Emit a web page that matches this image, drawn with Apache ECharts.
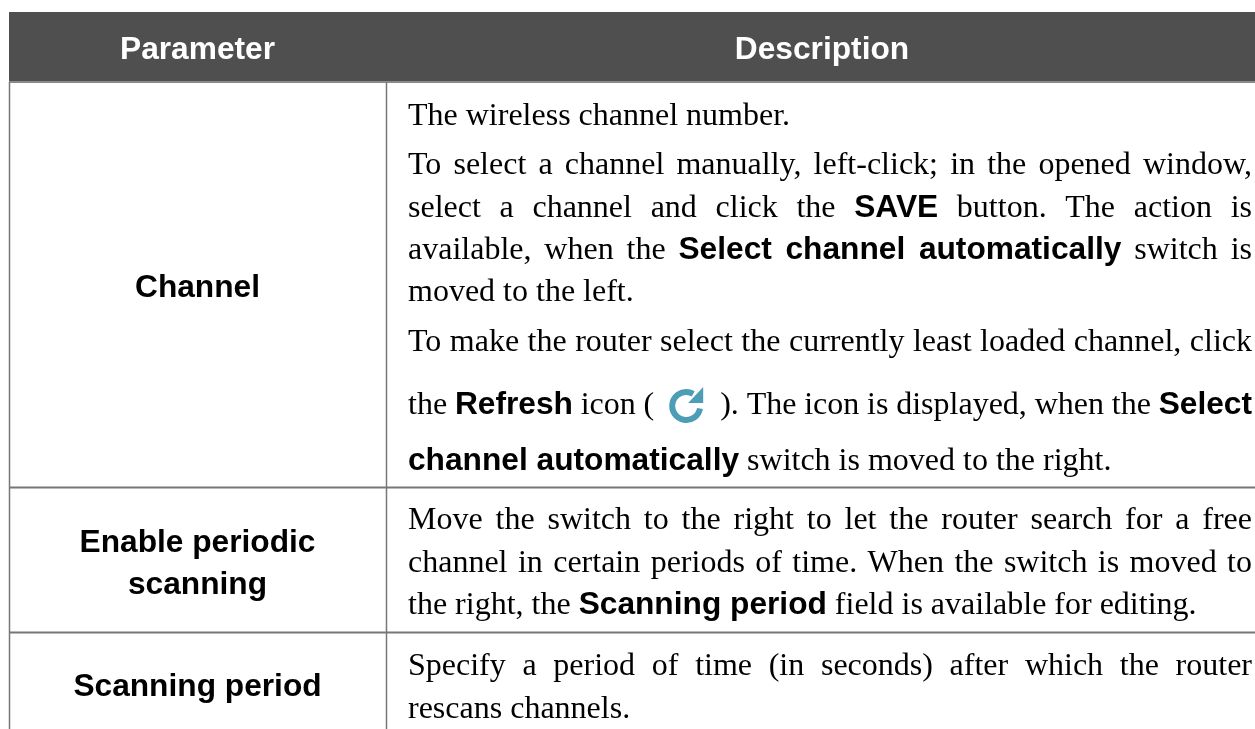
<!DOCTYPE html>
<html><head><meta charset="utf-8">
<style>html,body{margin:0;padding:0;background:#fff}#c{width:1255px;height:729px}</style>
<script src="https://cdn.jsdelivr.net/npm/echarts@6/dist/echarts.min.js"></script>
</head><body><div id="c"></div>
<script>
const headers = ['Parameter', 'Description'];
const parameters = [
  {lines:['Channel'], y:[296]},
  {lines:['Enable periodic','scanning'], y:[551,593]},
  {lines:['Scanning period'], y:[695]}
];
const rowLines = [487, 632];
const descriptionLines = [
  {base:124, j:0, runs:[['The wireless channel number.',0]]},
  {base:173, j:1, runs:[['To select a channel manually, left-click; in the opened window,',0]]},
  {base:216, j:1, runs:[['select a channel and click the ',0],['SAVE',1],[' button. The action is',0]]},
  {base:258, j:1, runs:[['available, when the ',0],['Select channel automatically',1],[' switch is',0]]},
  {base:300, j:0, runs:[['moved to the left.',0]]},
  {base:350, j:1, runs:[['To make the router select the currently least loaded channel, click',0]]},
  {base:413, j:1, runs:[['the ',0],['Refresh',1],[' icon (',0],['ICON',2],['). The icon is displayed, when the ',0],['Select',1]]},
  {base:469, j:0, runs:[['channel automatically',1],[' switch is moved to the right.',0]]},
  {base:528, j:1, runs:[['Move the switch to the right to let the router search for a free',0]]},
  {base:571, j:1, runs:[['channel in certain periods of time. When the switch is moved to',0]]},
  {base:613, j:0, runs:[['the right, the ',0],['Scanning period',1],[' field is available for editing.',0]]},
  {base:674, j:1, runs:[['Specify a period of time (in seconds) after which the router',0]]},
  {base:717, j:0, runs:[['rescans channels.',0]]}
];
const SERIF='"Liberation Serif"', SANS='"Liberation Sans"';
const FS=32, BFS=31.7, HFS=31.7;
const L=9, M=386, R=1255, TOP=12, HB=82, TX=408, TR=1252;
const OFF_SERIF=FS*0.73, OFF_SANS=BFS*0.73+1;
const ctx=document.createElement('canvas').getContext('2d');
function fontOf(b){return b?`bold ${BFS}px ${SANS}`:`${FS}px ${SERIF}`;}
function w(t,b){ctx.font=fontOf(b);return ctx.measureText(t).width;}
const g=[];
function line(x1,y1,x2,y2,c,lw){g.push({type:'line',shape:{x1,y1,x2,y2},style:{stroke:c,lineWidth:lw}});}
g.push({type:'rect',shape:{x:L,y:TOP,width:R-L,height:HB-TOP},style:{fill:'#4f4f4f'}});
line(L,HB,R,HB,'#8a8a8a',2);
line(L+.5,HB,L+.5,729,'#777',1.5);
line(M+.5,HB,M+.5,729,'#777',1.5);
rowLines.forEach(y=>line(L,y+.5,R,y+.5,'#777',2));
function t(text,x,base,font,fill,off,align){g.push({type:'text',x,y:base-off,style:{text,font,fill,textAlign:align||'left'}});}
t(headers[0],197.5,58,`bold ${HFS}px ${SANS}`,'#fff',OFF_SANS,'center');
t(headers[1],822,58,`bold ${HFS}px ${SANS}`,'#fff',OFF_SANS,'center');
parameters.forEach(p=>p.lines.forEach((s,i)=>t(s,197.5,p.y[i],`bold ${BFS}px ${SANS}`,'#000',OFF_SANS,'center')));
descriptionLines.forEach(d=>{
  const toks=[];
  d.runs.forEach(([s,b])=>{
    if(b===2){toks.push({icon:1,w:66});return;}
    s.split(/( )/).forEach(x=>{ if(x==='')return; if(x===' ')toks.push({sp:1,b});else toks.push({s:x,b}); });
  });
  let total=0,nsp=0;
  toks.forEach(k=>{ if(k.icon)total+=k.w; else if(k.s)total+=w(k.s,k.b); else {total+=w(' ',k.b);nsp++;} });
  const extra=d.j&&nsp?(TR-TX-total)/nsp:0;
  let x=TX;
  toks.forEach(k=>{
    if(k.icon){
      const cx=x+32, cy=d.base-7;
      g.push({type:'arc',shape:{cx,cy,r:14,startAngle:10*Math.PI/180,endAngle:300*Math.PI/180,clockwise:true},style:{stroke:'#4c9db5',lineWidth:6,fill:null}});
      g.push({type:'polygon',shape:{points:[[cx+17,cy-19],[cx+17,cy-3],[cx+2,cy-3]]},style:{fill:'#4c9db5'}});
      x+=k.w;return;
    }
    if(k.s){t(k.s,x,d.base,fontOf(k.b),'#000',k.b?OFF_SANS:OFF_SERIF);x+=w(k.s,k.b);}
    else x+=w(' ',k.b)+extra;
  });
});
const chart=echarts.init(document.getElementById('c'),null,{renderer:'canvas'});
chart.setOption({animation:false,backgroundColor:'#fff',graphic:{elements:g}});
</script></body></html>
